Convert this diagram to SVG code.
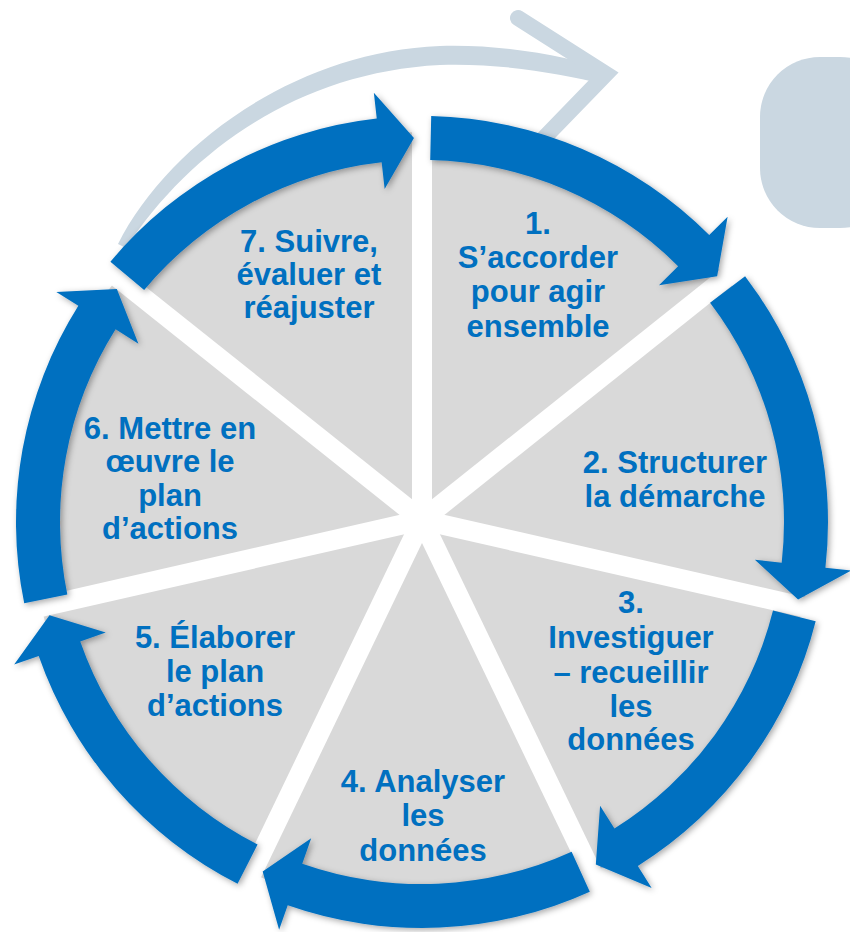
<svg xmlns="http://www.w3.org/2000/svg" width="850" height="932" viewBox="0 0 850 932">
<defs>
<style>
.arr{fill:#0070c0;filter:url(#sh);}
.lbl{font-family:"Liberation Sans",Arial,sans-serif;font-weight:700;font-size:31px;fill:#0070c0;text-anchor:middle;}
.spoke{stroke:#ffffff;stroke-width:20;}
.sketch{fill:#cad7e1;}
</style>
<filter id="sh" x="-20%" y="-20%" width="140%" height="140%">
<feDropShadow dx="2" dy="2" stdDeviation="3" flood-color="#000" flood-opacity="0.35"/>
</filter>
</defs>
<rect width="850" height="932" fill="#ffffff"/>
<rect x="760" y="57" width="140" height="171" rx="60" ry="60" class="sketch"/>
<g id="connectors">
<path class="sketch" d="M118 244 C165 150 290 52 440 46 C510 44 570 58 610 70 L604 84 C560 74 505 63 440 65 C300 72 190 150 126 248 Z"/>
<polyline points="518,18 606,74 544,138" fill="none" stroke="#cad7e1" stroke-width="16" stroke-linecap="round" stroke-linejoin="miter"/>
</g>
<g id="wheel">
<circle cx="422" cy="522" r="390" fill="#d9d9d9"/>
<g class="spoke">
<line x1="422" y1="520" x2="422" y2="80"/>
<line x1="422" y1="520" x2="766" y2="245.7"/>
<line x1="422" y1="520" x2="851" y2="617.9"/>
<line x1="422" y1="520" x2="612.9" y2="916.4"/>
<line x1="422" y1="520" x2="231.1" y2="916.4"/>
<line x1="422" y1="520" x2="-7" y2="617.9"/>
<line x1="422" y1="520" x2="78" y2="245.7"/>
</g>
</g>
<g id="seg1">
<path class="arr" d="M431.21 116.10 A406 406 0 0 1 709.23 235.06 L727.62 216.68 L717.15 276.35 L659.00 285.24 L678.10 266.16 A362 362 0 0 0 430.21 160.09 Z"/>
<text class="lbl"><tspan x="538" y="234">1.</tspan><tspan x="538" y="268">S’accorder</tspan><tspan x="538" y="302">pour agir</tspan><tspan x="538" y="337">ensemble</tspan></text>
</g>
<g id="seg2">
<path class="arr" d="M745.09 276.13 A406 406 0 0 1 825.42 567.66 L851.26 570.58 L798.08 599.59 L754.88 559.67 L781.70 562.71 A362 362 0 0 0 710.08 302.78 Z"/>
<text class="lbl"><tspan x="675" y="473">2. Structurer</tspan><tspan x="675" y="507">la démarche</tspan></text>
</g>
<g id="seg3">
<path class="arr" d="M815.67 621.30 A406 406 0 0 1 637.83 865.88 L651.65 887.90 L595.82 864.41 L600.09 805.74 L614.44 828.61 A362 362 0 0 0 773.01 610.54 Z"/>
<text class="lbl"><tspan x="631" y="613">3.</tspan><tspan x="631" y="648">Investiguer</tspan><tspan x="631" y="683">– recueillir</tspan><tspan x="631" y="717">les</tspan><tspan x="631" y="750">données</tspan></text>
</g>
<g id="seg4">
<path class="arr" d="M589.81 891.70 A406 406 0 0 1 287.72 905.15 L279.12 929.69 L262.67 871.39 L311.20 838.15 L302.27 863.63 A362 362 0 0 0 571.62 851.63 Z"/>
<text class="lbl"><tspan x="423" y="792">4. Analyser</tspan><tspan x="423" y="826">les</tspan><tspan x="423" y="861">données</tspan></text>
</g>
<g id="seg5">
<path class="arr" d="M237.59 883.70 A406 406 0 0 1 38.72 655.90 L14.17 664.48 L49.50 615.27 L105.74 632.49 L80.25 641.39 A362 362 0 0 0 257.58 844.50 Z"/>
<text class="lbl"><tspan x="215" y="648">5. Élaborer</tspan><tspan x="215" y="682">le plan</tspan><tspan x="215" y="716">d’actions</tspan></text>
</g>
<g id="seg6">
<path class="arr" d="M24.23 603.34 A406 406 0 0 1 78.34 305.83 L56.33 291.98 L116.82 288.92 L138.43 343.63 L115.58 329.25 A362 362 0 0 0 67.34 594.52 Z"/>
<text class="lbl"><tspan x="170" y="439">6. Mettre en</tspan><tspan x="170" y="472">œuvre le</tspan><tspan x="170" y="506">plan</tspan><tspan x="170" y="539">d’actions</tspan></text>
</g>
<g id="seg7">
<path class="arr" d="M110.40 261.73 A406 406 0 0 1 376.74 118.53 L373.85 92.69 L413.96 138.08 L384.66 189.09 L381.65 162.26 A362 362 0 0 0 144.17 289.93 Z"/>
<text class="lbl"><tspan x="309" y="252">7. Suivre,</tspan><tspan x="309" y="285">évaluer et</tspan><tspan x="309" y="318">réajuster</tspan></text>
</g>
</svg>
